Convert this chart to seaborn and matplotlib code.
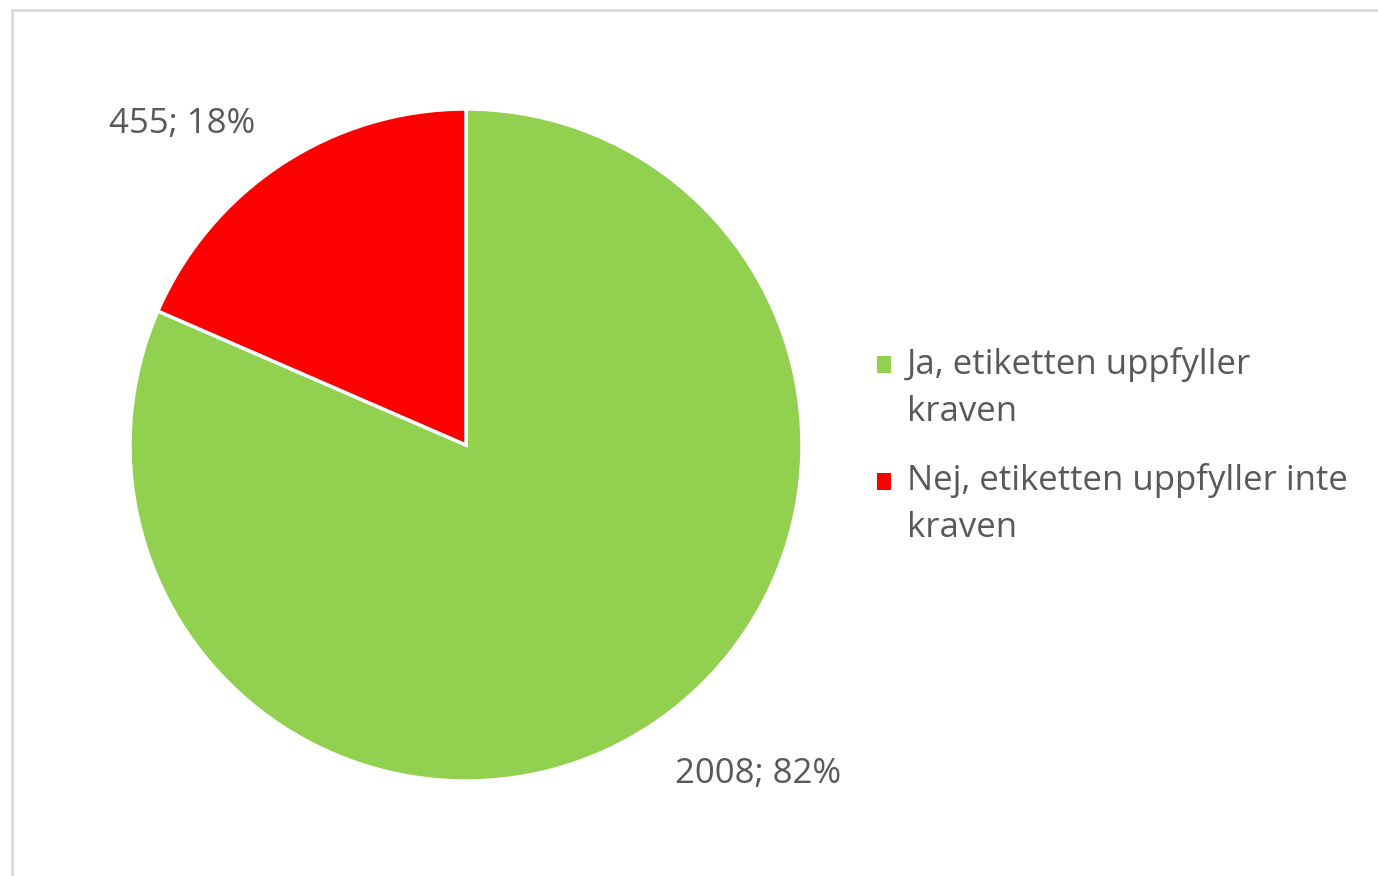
import matplotlib
matplotlib.use("Agg")
import matplotlib.pyplot as plt
from matplotlib.patches import Rectangle, Patch
from matplotlib.legend_handler import HandlerPatch
import seaborn as sns

# data
categories = ["Ja, etiketten uppfyller\nkraven", "Nej, etiketten uppfyller inte\nkraven"]
counts = [2008, 455]
percents = [82, 18]
colors = ["#92D050", "#FF0000"]

sns.set_theme(style="white")
plt.rcParams['font.family'] = ['Open Sans', 'DejaVu Sans']
txt_color = "#595959"

fig = plt.figure(figsize=(13.78, 8.76), dpi=100)
# chart frame (left/top edges visible)
fig.patches.append(Rectangle((12/1378, -0.1), 1.2, (876-10)/876 + 0.1,
                             transform=fig.transFigure, fill=False,
                             edgecolor="#D9D9D9", linewidth=2))

ax = fig.add_axes([130/1378, 95/876, 672/1378, 672/876])
wedges, _ = ax.pie(counts, colors=colors, startangle=90, counterclock=False,
                   wedgeprops=dict(edgecolor="white", linewidth=2.5))
ax.set_xlim(-1, 1)
ax.set_ylim(-1, 1)
ax.set_aspect("auto")
ax.axis("off")

# data labels
label_pos = [(0.87, -0.98), (-0.845, 0.955)]
for (x, y), n, p in zip(label_pos, counts, percents):
    ax.text(x, y, f"{n}; {p}%", ha="center", va="center", fontsize=25,
            color=txt_color)


# legend marker next to the first line of the wrapped label
def top_square(legend, orig_handle, xdescent, ydescent, width, height, fontsize):
    return Rectangle((-xdescent, -ydescent + 0.68 * fontsize), width, height)


handles = [Patch(facecolor=c, edgecolor="none") for c in colors]
leg = fig.legend(handles, categories, loc="center left",
                 bbox_to_anchor=(877/1378, 1 - 446/876), frameon=False,
                 fontsize=25, labelcolor=txt_color, handlelength=0.4,
                 handleheight=0.4, handletextpad=0.45, labelspacing=1.0,
                 borderpad=0, borderaxespad=0,
                 handler_map={Patch: HandlerPatch(patch_func=top_square)})
for t in leg.get_texts():
    t.set_linespacing(1.5)

fig.savefig("out.png", dpi=100)
